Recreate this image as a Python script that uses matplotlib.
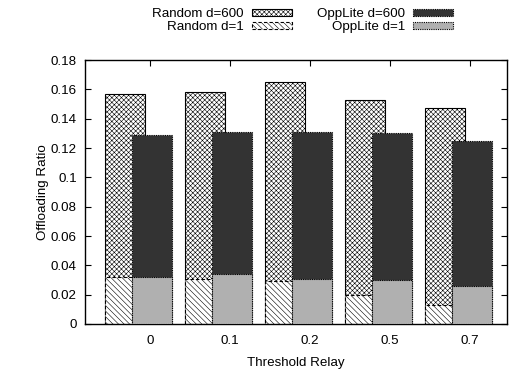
import numpy as np
import matplotlib
matplotlib.use("Agg")
import matplotlib.pyplot as plt

plt.rcParams['font.family'] = ['Liberation Sans', 'DejaVu Sans']
plt.rcParams['hatch.linewidth'] = 0.4
plt.rcParams['hatch.color'] = 'black'

# threshold relay categories
categories = ['0', '0.1', '0.2', '0.5', '0.7']
random_600 = [0.157, 0.158, 0.165, 0.153, 0.147]
random_1 = [0.032, 0.031, 0.029, 0.020, 0.013]
opplite_600 = [0.129, 0.131, 0.131, 0.130, 0.125]
opplite_1 = [0.032, 0.034, 0.031, 0.030, 0.026]

fs = 9.6
fig = plt.figure(figsize=(5.09, 3.71), dpi=100)
ax = fig.add_axes([85/509, 1-324/371, 422/509, 264/371])

x = np.arange(len(categories))
w = 0.5
xr = x - 0.3125
xo = x + 0.025

h1 = ax.bar(xr, random_600, w, color='white', edgecolor='black', hatch='xxxxxxx',
            linewidth=0.8, label='Random d=600', zorder=2)
h2 = ax.bar(xr, random_1, w, color='white', edgecolor='black', hatch='\\' * 6,
            linewidth=0.8, linestyle=(0, (3, 2)), label='Random d=1', zorder=2)
h3 = ax.bar(xo, opplite_600, w, color='#333333', edgecolor='black',
            linewidth=0.8, linestyle=(0, (1, 1)), label='OppLite d=600', zorder=3)
h4 = ax.bar(xo, opplite_1, w, color='#b0b0b0', edgecolor='black',
            linewidth=0.8, linestyle=(0, (1, 1)), label='OppLite d=1', zorder=3)

ax.set_xlim(-0.8125, 4.4625)
ax.set_ylim(0, 0.18)
ax.set_yticks(np.arange(0, 0.181, 0.02))
ax.set_yticklabels(['0', '0.02', '0.04', '0.06', '0.08', '0.1', '0.12', '0.14', '0.16', '0.18'])
ax.set_xticks(x)
ax.set_xticklabels(categories)
ax.tick_params(direction='in', length=4, top=True, right=True, labelsize=fs, pad=6)
ax.tick_params(axis='x', pad=8)
ax.set_xlabel('Threshold Relay', fontsize=fs, labelpad=7)
ax.set_ylabel('Offloading Ratio', fontsize=fs, labelpad=1)
for s in ax.spines.values():
    s.set_linewidth(1.0)

fig.legend([h1, h2, h3, h4], ['Random d=600', 'Random d=1', 'OppLite d=600', 'OppLite d=1'],
           ncol=2, loc='upper right', bbox_to_anchor=(453/509, 1-8/371),
           frameon=False, markerfirst=False, fontsize=fs, handlelength=3.0,
           handleheight=0.45, handletextpad=0.6, columnspacing=1.9,
           labelspacing=0.08, borderpad=0, borderaxespad=0)

fig.savefig('out.png', dpi=100)
